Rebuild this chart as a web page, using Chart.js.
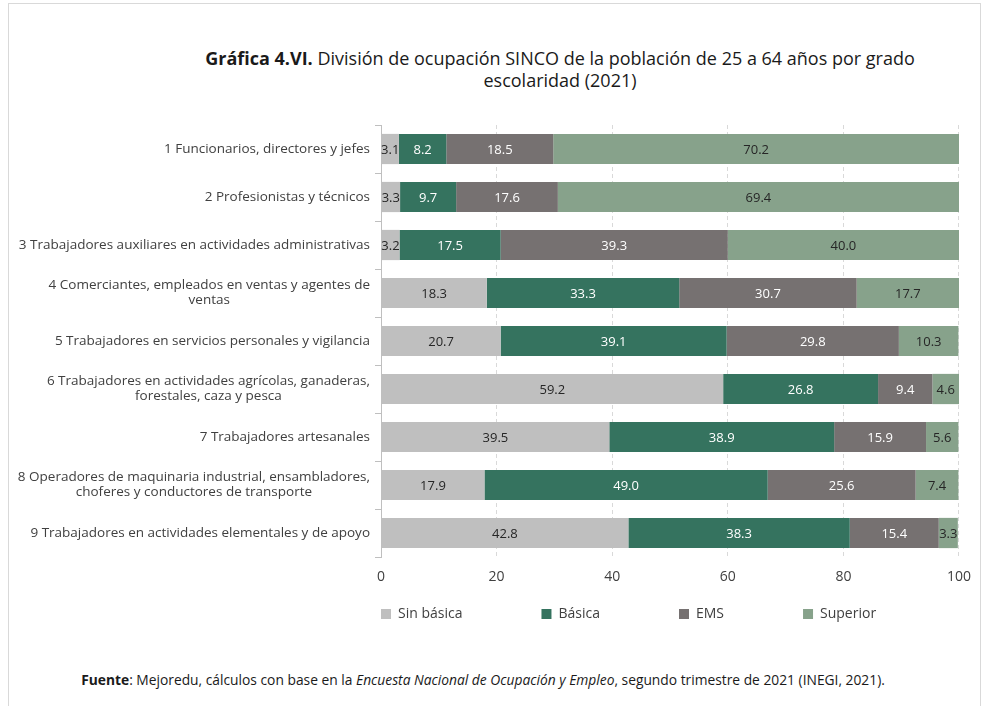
<!DOCTYPE html>
<html>
<head>
<meta charset="utf-8">
<script src="https://cdn.jsdelivr.net/npm/chart.js@4"></script>
<style>
  html, body { margin: 0; padding: 0; background: #fff; }
  body { width: 983px; height: 706px; position: relative; overflow: hidden; font-family: "Open Sans", sans-serif; }
  .frame { position: absolute; left: 8px; top: 3px; width: 971px; height: 720px; border: 1px solid #d9d9d9; }
  .title { position: absolute; left: 160px; width: 800px; top: 47px; text-align: center; font-size: 18px; line-height: 22px; color: #1a1a1a; }
  .source { position: absolute; left: 0; width: 966px; top: 670px; text-align: center; font-size: 13.8px; color: #1a1a1a; }
  canvas { position: absolute; left: 0; top: 0; }
</style>
</head>
<body>
<div class="frame"></div>
<div class="title"><b>Gráfica 4.VI.</b> División de ocupación SINCO de la población de 25 a 64 años por grado<br>escolaridad (2021)</div>
<div class="source"><b>Fuente</b>: Mejoredu, cálculos con base en la <i>Encuesta Nacional de Ocupación y Empleo</i>, segundo trimestre de 2021 (INEGI, 2021).</div>
<canvas id="chart" width="983" height="706"></canvas>
<script>
// occupations, top to bottom
const categories = [
  "1 Funcionarios, directores y jefes",
  "2 Profesionistas y técnicos",
  "3 Trabajadores auxiliares en actividades administrativas",
  ["4 Comerciantes, empleados en ventas y agentes de", "ventas"],
  "5 Trabajadores en servicios personales y vigilancia",
  ["6 Trabajadores en actividades agrícolas, ganaderas,", "forestales, caza y pesca"],
  "7 Trabajadores artesanales",
  ["8 Operadores de maquinaria industrial, ensambladores,", "choferes y conductores de transporte"],
  "9 Trabajadores en actividades elementales y de apoyo"
];

const sinBasica = [3.1, 3.3, 3.2, 18.3, 20.7, 59.2, 39.5, 17.9, 42.8];
const basica    = [8.2, 9.7, 17.5, 33.3, 39.1, 26.8, 38.9, 49.0, 38.3];
const ems       = [18.5, 17.6, 39.3, 30.7, 29.8, 9.4, 15.9, 25.6, 15.4];
const superior  = [70.2, 69.4, 40.0, 17.7, 10.3, 4.6, 5.6, 7.4, 3.3];

const xTicks = [0, 20, 40, 60, 80, 100];

const FONT = "Open Sans";
const TEXT = "#404040";

// value labels in the middle of each segment
const segmentLabels = {
  id: "segmentLabels",
  afterDatasetsDraw(chart) {
    const ctx = chart.ctx;
    ctx.save();
    ctx.font = "13px '" + FONT + "'";
    ctx.textAlign = "center";
    ctx.textBaseline = "middle";
    chart.data.datasets.forEach((ds, i) => {
      const meta = chart.getDatasetMeta(i);
      ctx.fillStyle = ds.labelColor;
      meta.data.forEach((bar, j) => {
        ctx.fillText(ds.data[j].toFixed(1), (bar.x + bar.base) / 2, bar.y + 1);
      });
    });
    ctx.restore();
  }
};

// category labels: block right aligned, lines centered inside it
const categoryLabels = {
  id: "categoryLabels",
  afterDraw(chart) {
    const ctx = chart.ctx;
    const yScale = chart.scales.y;
    const right = chart.chartArea.left - 11;
    ctx.save();
    ctx.font = "13.5px '" + FONT + "'";
    ctx.fillStyle = TEXT;
    ctx.textAlign = "center";
    ctx.textBaseline = "middle";
    chart.data.labels.forEach((lab, i) => {
      const lines = Array.isArray(lab) ? lab : [lab];
      const w = Math.max(...lines.map(l => ctx.measureText(l).width));
      const cx = right - w / 2;
      const y0 = yScale.getPixelForTick(i) - (lines.length - 1) * 15 / 2;
      lines.forEach((l, k) => ctx.fillText(l, cx, y0 + k * 15));
    });
    ctx.restore();
  }
};

// move the legend so it starts at the plot's left edge
const legendPlace = {
  id: "legendPlace",
  beforeDraw(chart) {
    const lg = chart.legend;
    const pad = lg.options.labels.padding;
    lg.left = chart.chartArea.left - pad;
    lg.right = chart.width;
    lg.top = 607 - pad;
    lg.bottom = 640;
    lg.width = lg.right - lg.left;
    lg.height = lg.bottom - lg.top;
  }
};

new Chart(document.getElementById("chart"), {
  type: "bar",
  data: {
    labels: categories,
    datasets: [
      { label: "Sin básica", data: sinBasica, backgroundColor: "#bfbfbf", labelColor: "#262626" },
      { label: "Básica", data: basica, backgroundColor: "#35735f", labelColor: "#ffffff" },
      { label: "EMS", data: ems, backgroundColor: "#767171", labelColor: "#ffffff" },
      { label: "Superior", data: superior, backgroundColor: "#87a28b", labelColor: "#262626" }
    ]
  },
  options: {
    indexAxis: "y",
    responsive: false,
    animation: false,
    devicePixelRatio: 1,
    categoryPercentage: 1,
    barPercentage: 0.63,
    layout: { padding: { top: 125, left: 0, right: 23, bottom: 6 } },
    scales: {
      x: {
        stacked: true,
        min: 0,
        max: 100,
        afterBuildTicks: (scale) => { scale.ticks = xTicks.map(v => ({ value: v })); },
        afterFit: (scale) => { scale.height = 40; },
        grid: { color: "#d9d9d9", drawTicks: false },
        border: { display: false, dash: [4, 3] },
        ticks: { padding: 12, color: TEXT, font: { family: FONT, size: 14 } }
      },
      y: {
        stacked: true,
        afterFit: (scale) => { scale.width = 381; },
        grid: { offset: true, drawOnChartArea: false, tickLength: 6, color: "#bfbfbf" },
        border: { display: true, color: "#bfbfbf" },
        ticks: { display: false }
      }
    },
    plugins: {
      title: { display: false },
      tooltip: { enabled: false },
      legend: {
        position: "bottom",
        align: "start",
        labels: {
          boxWidth: 10,
          boxHeight: 10,
          padding: 79,
          color: TEXT,
          font: { family: FONT, size: 14 }
        }
      }
    }
  },
  plugins: [segmentLabels, categoryLabels, legendPlace]
});
</script>
</body>
</html>
